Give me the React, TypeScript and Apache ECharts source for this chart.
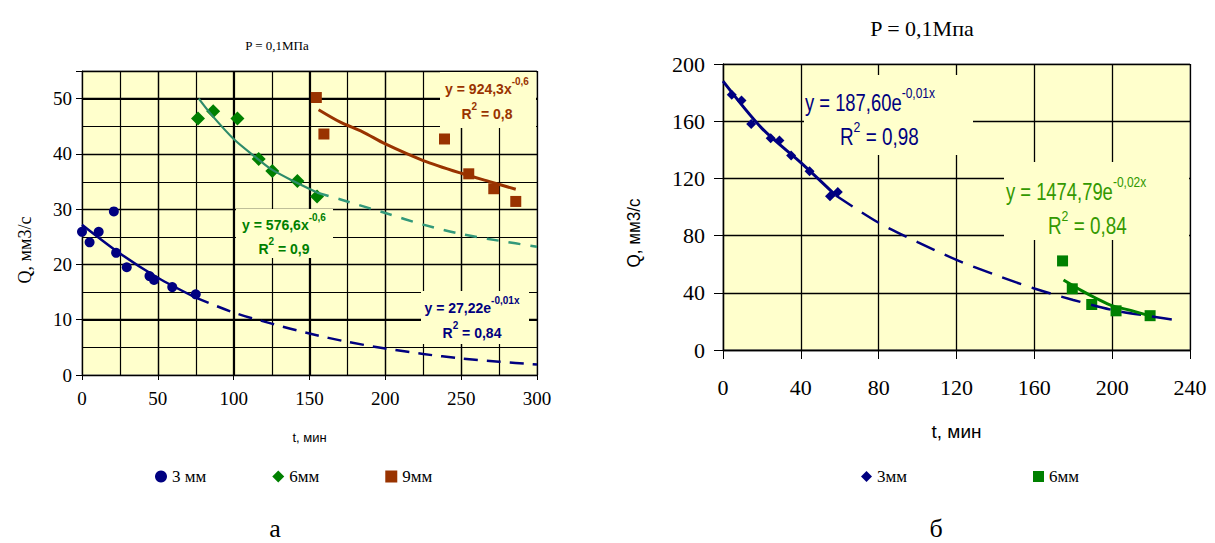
import React, { useEffect, useRef } from "react";
import * as echarts from "echarts";

// ---- Chart а (left): P = 0,1МПа, three nozzle sizes ----
const aXTicks = [0, 50, 100, 150, 200, 250, 300];
const aYTicks = [0, 10, 20, 30, 40, 50];
const aXGrid = [25, 50, 75, 100, 125, 150, 175, 200, 225, 250, 275];
const aYGrid = [5, 10, 15, 20, 25, 30, 35, 40, 45, 50];
const a3mm: number[][] = [
  [0, 25.9], [5, 24.0], [11, 25.9], [21, 29.6], [22.5, 22.1], [29.5, 19.5],
  [44.5, 17.9], [47.5, 17.2], [59.5, 15.9], [75, 14.6],
];
const a6mm: number[][] = [
  [76.5, 46.4], [86.5, 47.7], [102.5, 46.4], [116.5, 39.1], [125.5, 36.9],
  [142, 35.1], [155, 32.3],
];
const a9mm: number[][] = [
  [154.5, 50.2], [159.5, 43.6], [239, 42.7], [255, 36.4], [271.5, 33.7], [286, 31.4],
];
const a3Fit: number[][] = [[0, 27.2], [25, 22.0], [50, 17.6], [75, 14.0]];
const a3FitExt: number[][] = [
  [75, 14.0], [100, 11.3], [125, 9.3], [150, 7.5], [175, 6.0], [200, 4.8],
  [225, 3.8], [250, 3.0], [275, 2.4], [300, 1.9],
];
const a6Fit: number[][] = [
  [77, 50], [85, 47.2], [100, 42.7], [115, 39.3], [125, 37.2], [140, 35.0], [155, 33.0],
];
const a6FitExt: number[][] = [
  [155, 33.0], [170, 31.8], [200, 29.3], [225, 27.2], [250, 25.5], [275, 24.3], [300, 23.2],
];
const a9Fit: number[][] = [
  [156, 48.0], [170, 45.8], [185, 44.0], [200, 41.8], [225, 38.8], [250, 36.5],
  [270, 34.9], [286, 33.6],
];

// ---- Chart б (right): P = 0,1Мпа, two nozzle sizes ----
const bXTicks = [0, 40, 80, 120, 160, 200, 240];
const bYTicks = [0, 40, 80, 120, 160, 200];
const b3mm: number[][] = [
  [4.5, 178.5], [9.5, 174.5], [14.5, 158], [24.5, 148], [29, 146.5], [35, 136],
  [44.5, 125], [55, 107.5], [59, 110.5],
];
const b6mm: number[][] = [[174.5, 62.3], [179.5, 42.8], [189.5, 31.8], [202, 27.4], [219.5, 24.0]];
const b3Fit: number[][] = [[0, 188], [20, 155], [40, 131], [58, 108]];
const b3FitExt: number[][] = [
  [58, 108], [80, 89], [100, 75.5], [120, 63], [140, 52.5], [160, 43], [180, 35],
  [200, 28], [220, 23.5], [235, 20.5],
];
const b6Fit: number[][] = [[175, 49], [185, 41], [192, 36], [200, 31], [210, 27.5], [220, 23.5]];

const NAVY = "#000080";
const GREEN = "#008000";
const BROWN = "#993300";
const TEAL = "#33997a";
const LIME = "#339900";
const PLOT_BG = "#FFFFCC";
const SERIF = "'Liberation Serif', 'Times New Roman', serif";
const SANS = "'Liberation Sans', Arial, sans-serif";

const LEFT = { left: 82, top: 71, width: 455, height: 304 };
const RIGHT = { left: 723, top: 64, width: 467, height: 286 };

function supText(x: number, y: number, main: string, sup: string, color: string, size: number, supSize: number, bold: boolean, align: string, after = "", scaleX = 1) {
  return {
    type: "text",
    x,
    y,
    scaleX,
    z: 100,
    style: {
      text: `{m|${main}}{s|${sup}}` + (after ? `{m|${after}}` : ""),
      align,
      verticalAlign: "middle",
      rich: {
        m: { fontSize: size, fontWeight: bold ? "bold" : "normal", fontFamily: SANS, fill: color, lineHeight: size + 6, verticalAlign: "bottom" },
        s: { fontSize: supSize, fontWeight: bold ? "bold" : "normal", fontFamily: SANS, fill: color, lineHeight: size + 6, verticalAlign: "top" },
      },
    },
  };
}

export default function App() {
  const ref = useRef<HTMLDivElement>(null);
  useEffect(() => {
    if (!ref.current) return;
    const chart = echarts.init(ref.current, null, { renderer: "svg" });
    const graphic: any[] = [
      // plot-area backgrounds with grey frames (drawn beneath everything)
      { type: "rect", z: -10, silent: true, shape: { x: LEFT.left, y: LEFT.top, width: LEFT.width, height: LEFT.height }, style: { fill: PLOT_BG, stroke: "#9a9a9a", lineWidth: 1 } },
      { type: "rect", z: -10, silent: true, shape: { x: RIGHT.left, y: RIGHT.top, width: RIGHT.width, height: RIGHT.height }, style: { fill: PLOT_BG, stroke: "#9a9a9a", lineWidth: 1 } },
      // titles
      { type: "text", x: 277, y: 45, style: { text: "P = 0,1МПа", font: `13px ${SERIF}`, fill: "#000", align: "center", verticalAlign: "middle" } },
      { type: "text", x: 922, y: 28, style: { text: "P = 0,1Мпа", font: `22px ${SERIF}`, fill: "#000", align: "center", verticalAlign: "middle" } },
      // y-axis titles
      { type: "text", x: 25, y: 250, rotation: Math.PI / 2, style: { text: "Q, мм3/с", font: `18px ${SERIF}`, fill: "#000", align: "center", verticalAlign: "middle" } },
      { type: "text", x: 634, y: 233, rotation: Math.PI / 2, scaleX: 0.9, style: { text: "Q, мм3/с", font: `19px ${SANS}`, fill: "#000", align: "center", verticalAlign: "middle" } },
      // sub-figure labels
      { type: "text", x: 275, y: 528, style: { text: "а", font: `26px ${SERIF}`, fill: "#000", align: "center", verticalAlign: "middle" } },
      { type: "text", x: 936, y: 528, style: { text: "б", font: `26px ${SERIF}`, fill: "#000", align: "center", verticalAlign: "middle" } },
      // label boxes (left)
      { type: "rect", z: 90, shape: { x: 440, y: 72, width: 96, height: 56 }, style: { fill: PLOT_BG } },
      { type: "rect", z: 90, shape: { x: 236, y: 209, width: 97, height: 49 }, style: { fill: PLOT_BG } },
      { type: "rect", z: 90, shape: { x: 421, y: 291, width: 108, height: 53 }, style: { fill: PLOT_BG } },
      // label boxes (right)
      { type: "rect", z: 90, shape: { x: 804, y: 75, width: 169, height: 80 }, style: { fill: PLOT_BG } },
      { type: "rect", z: 90, shape: { x: 1004, y: 162, width: 185, height: 78 }, style: { fill: PLOT_BG } },
      // equations (left)
      supText(487, 86, "y = 924,3x", "-0,6", BROWN, 14, 10, true, "center"),
      supText(487, 111, "R", "2", BROWN, 14, 10, true, "center", " = 0,8"),
      supText(284, 222, "y = 576,6x", "-0,6", GREEN, 14, 10, true, "center"),
      supText(284, 246, "R", "2", GREEN, 14, 10, true, "center", " = 0,9"),
      supText(472, 305, "y = 27,22e", "-0,01x", NAVY, 14, 10, true, "center"),
      supText(472, 330, "R", "2", NAVY, 14, 10, true, "center", " = 0,84"),
      // equations (right)
      supText(805, 100, "y = 187,60e", "-0,01x", NAVY, 23, 15, false, "left", "", 0.8),
      supText(840, 134, "R", "2", NAVY, 23, 15, false, "left", " = 0,98", 0.82),
      supText(1006, 189, "y = 1474,79e", "-0,02x", LIME, 23, 15, false, "left", "", 0.8),
      supText(1048, 223, "R", "2", LIME, 23, 15, false, "left", " = 0,84", 0.82),
    ];
    const option: any = {
      animation: false,
      backgroundColor: "#fff",
      grid: [
        { ...LEFT, show: false },
        { ...RIGHT, show: false },
      ],
      xAxis: [
        {
          gridIndex: 0, type: "value", position: "bottom", min: aXTicks[0], max: aXTicks[aXTicks.length - 1], interval: 50,
          splitLine: { show: true, lineStyle: { color: "#000", width: 1.3 } },
          axisLine: { show: true, lineStyle: { color: "#000", width: 1.1 } },
          axisTick: { show: true, length: 5, lineStyle: { color: "#000" } },
          axisLabel: { show: true, color: "#000", fontFamily: SERIF, fontSize: 19, margin: 14 },
          name: "t, мин", nameLocation: "middle", nameGap: 56,
          nameTextStyle: { color: "#000", fontFamily: SANS, fontSize: 13 },
        },
        {
          gridIndex: 1, type: "value", position: "bottom", min: bXTicks[0], max: bXTicks[bXTicks.length - 1], interval: 40,
          splitLine: { show: true, lineStyle: { color: "#000", width: 1.3 } },
          axisLine: { show: true, lineStyle: { color: "#000", width: 1.3 } },
          axisTick: { show: true, length: 9, lineStyle: { color: "#000" } },
          axisLabel: { show: true, color: "#000", fontFamily: SERIF, fontSize: 22, margin: 26 },
          name: "t, мин", nameLocation: "middle", nameGap: 72,
          nameTextStyle: { color: "#000", fontFamily: SANS, fontSize: 19 },
        },
      ],
      yAxis: [
        {
          gridIndex: 0, type: "value", position: "left", min: aYTicks[0], max: 55, interval: 10,
          splitLine: { show: true, lineStyle: { color: "#000", width: 1.3 } },
          axisLine: { show: true, lineStyle: { color: "#000", width: 1.1 } },
          axisTick: { show: true, length: 6, lineStyle: { color: "#000" } },
          axisLabel: { show: true, color: "#000", fontFamily: SERIF, fontSize: 19, margin: 10,
            formatter: (v: number) => (aYTicks.indexOf(v) >= 0 ? String(v) : "") },
        },
        {
          gridIndex: 1, type: "value", position: "left", min: bYTicks[0], max: bYTicks[bYTicks.length - 1], interval: 40,
          splitLine: { show: true, lineStyle: { color: "#000", width: 1.3 } },
          axisLine: { show: true, lineStyle: { color: "#000", width: 1.3 } },
          axisTick: { show: true, length: 9, lineStyle: { color: "#000" } },
          axisLabel: { show: true, color: "#000", fontFamily: SERIF, fontSize: 22, margin: 18 },
        },
      ],
      legend: [
        {
          data: ["3 мм", "6мм", "9мм"], left: 150, top: 463, itemGap: 66, itemWidth: 12, itemHeight: 12,
          textStyle: { color: "#000", fontFamily: SERIF, fontSize: 17 }, selectedMode: false,
        },
        {
          data: ["б3мм", "б6мм"], left: 856, top: 463, itemGap: 126, itemWidth: 11, itemHeight: 11,
          formatter: (n: string) => n.slice(1),
          textStyle: { color: "#000", fontFamily: SERIF, fontSize: 17 }, selectedMode: false,
        },
      ],
      series: [
        { name: "3 мм", type: "scatter", xAxisIndex: 0, yAxisIndex: 0, symbol: "circle", symbolSize: 10, itemStyle: { color: NAVY, opacity: 1 }, data: a3mm },
        { name: "6мм", type: "scatter", xAxisIndex: 0, yAxisIndex: 0, symbol: "diamond", symbolSize: 14, itemStyle: { color: GREEN, opacity: 1 }, data: a6mm },
        { name: "9мм", type: "scatter", xAxisIndex: 0, yAxisIndex: 0, symbol: "rect", symbolSize: 11, itemStyle: { color: BROWN, opacity: 1 }, data: a9mm },
        { type: "line", xAxisIndex: 0, yAxisIndex: 0, smooth: 0.3, symbol: "none", lineStyle: { color: NAVY, width: 2.5 }, data: a3Fit },
        { type: "line", xAxisIndex: 0, yAxisIndex: 0, smooth: 0.3, symbol: "none", lineStyle: { color: NAVY, width: 2.5, type: [14, 9] }, data: a3FitExt },
        { type: "line", xAxisIndex: 0, yAxisIndex: 0, smooth: 0.3, symbol: "none", lineStyle: { color: "#2e8b6a", width: 2.2 }, data: a6Fit },
        { type: "line", xAxisIndex: 0, yAxisIndex: 0, smooth: 0.3, symbol: "none", lineStyle: { color: TEAL, width: 2.5, type: [12, 10] }, data: a6FitExt },
        { type: "line", xAxisIndex: 0, yAxisIndex: 0, smooth: 0.3, symbol: "none", lineStyle: { color: BROWN, width: 3 }, data: a9Fit },

        { name: "б3мм", type: "scatter", xAxisIndex: 1, yAxisIndex: 1, symbol: "diamond", symbolSize: 10, itemStyle: { color: NAVY, opacity: 1 }, data: b3mm },
        { name: "б6мм", type: "scatter", xAxisIndex: 1, yAxisIndex: 1, symbol: "rect", symbolSize: 11, itemStyle: { color: GREEN, opacity: 1 }, data: b6mm },
        { type: "line", xAxisIndex: 1, yAxisIndex: 1, smooth: 0.3, symbol: "none", lineStyle: { color: NAVY, width: 3 }, data: b3Fit },
        { type: "line", xAxisIndex: 1, yAxisIndex: 1, smooth: 0.3, symbol: "none", lineStyle: { color: NAVY, width: 2.5, type: [20, 11] }, data: b3FitExt },
        { type: "line", xAxisIndex: 1, yAxisIndex: 1, smooth: 0.3, symbol: "none", lineStyle: { color: GREEN, width: 3 }, data: b6Fit },
      ],
      graphic,
    };
    chart.setOption(option);

    // grid lines of chart а, positioned through the chart's own axis scales
    const gridLines: any[] = [];
    const yTop = chart.convertToPixel({ yAxisIndex: 0 } as any, 55) as number;
    const yBottom = chart.convertToPixel({ yAxisIndex: 0 } as any, 0) as number;
    const xLeft = chart.convertToPixel({ xAxisIndex: 0 } as any, 0) as number;
    const xRight = chart.convertToPixel({ xAxisIndex: 0 } as any, 300) as number;
    if ([yTop, yBottom, xLeft, xRight].every((v) => typeof v === "number" && isFinite(v))) {
      aXGrid.forEach((v) => {
        const px = Math.round(chart.convertToPixel({ xAxisIndex: 0 } as any, v) as number) + 0.5;
        gridLines.push({ type: "line", z: -5, silent: true, shape: { x1: px, y1: yTop, x2: px, y2: yBottom }, style: { stroke: "#000", lineWidth: 1.2 } });
      });
      aYGrid.forEach((v) => {
        const py = Math.round(chart.convertToPixel({ yAxisIndex: 0 } as any, v) as number) + 0.5;
        gridLines.push({ type: "line", z: -5, silent: true, shape: { x1: xLeft, y1: py, x2: xRight, y2: py }, style: { stroke: "#000", lineWidth: 1.2 } });
      });
      chart.setOption({ graphic: [...graphic, ...gridLines] });
    }
    return () => chart.dispose();
  }, []);
  return <div ref={ref} style={{ position: "absolute", left: 0, top: 0, width: 1215, height: 543 }} />;
}
